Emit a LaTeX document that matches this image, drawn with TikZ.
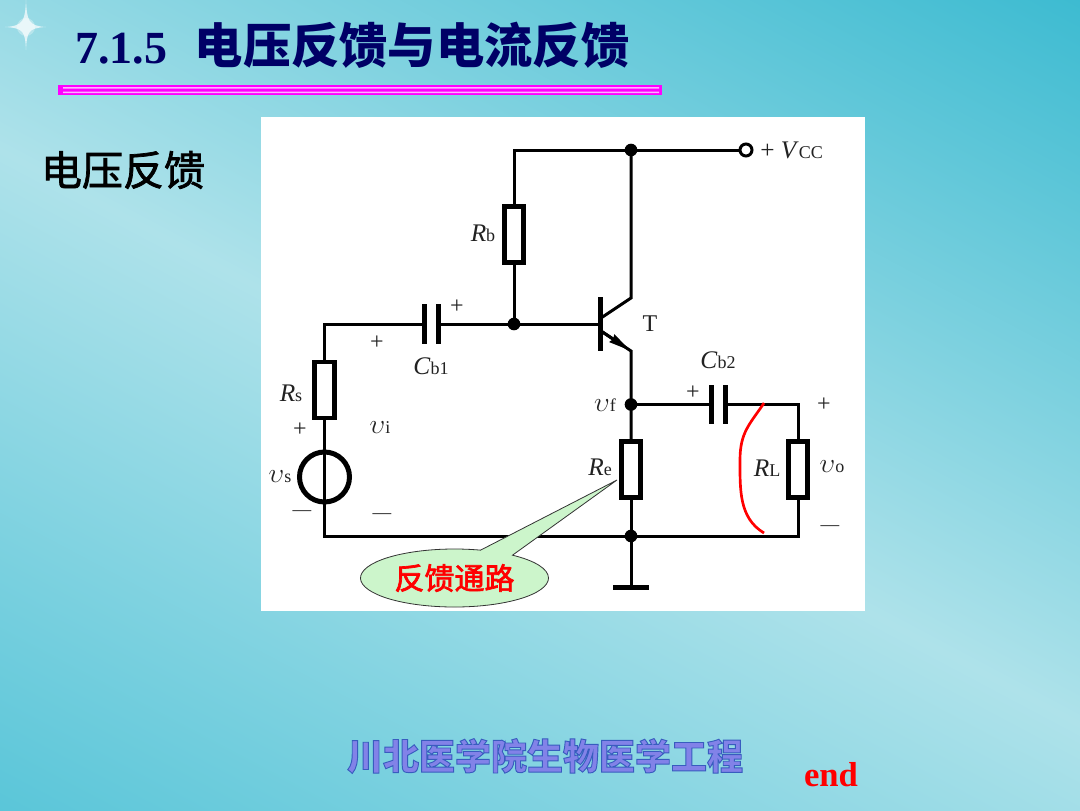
\documentclass[tikz,border=0pt]{standalone}
\usepackage{fontspec}
\setmainfont{Liberation Serif}
\newfontfamily\cjk{Noto Sans CJK SC}
\usepackage{tikz}
\usetikzlibrary{arrows.meta}
\usetikzlibrary{shapes.callouts}

\definecolor{bgdark}{HTML}{3DBBD1}
\definecolor{bgdarkb}{HTML}{52C3D7}
\definecolor{bglight}{HTML}{AEE2EA}
\definecolor{titleblue}{HTML}{000066}
\definecolor{calloutgreen}{HTML}{CCF5CB}
\definecolor{inkgrey}{HTML}{222222}
\definecolor{rulepink}{HTML}{FF00FF}

\newcommand{\lab}[2]{{\fontsize{19}{19}\selectfont\textit{#1}\fontsize{13.5}{13.5}\selectfont #2}}
\newcommand{\vlab}[1]{{\fontsize{22}{22}\selectfont$\upsilon$\fontsize{13.5}{13.5}\selectfont #1}}
% outlined text: stroke colour, stroke width, text
\newcommand{\stroked}[3]{\special{pdf:code #1 RG 2 Tr #2 w}#3\special{pdf:code 0 Tr}}

\tikzset{
    wire/.style={line width=2.25pt, line join=miter},
    res/.style={draw, fill=white, line width=3.6pt, minimum width=14.5pt, minimum height=42pt, inner sep=0pt},
    plate/.style={fill=black, minimum width=3.75pt, minimum height=29.5pt, inner sep=0pt, outer sep=-0.5pt},
    dot/.style={circle, fill=black, minimum size=9.5pt, inner sep=0pt, outer sep=-1pt},
    txt/.style={text=inkgrey, inner sep=0pt},
    sign/.style={text=inkgrey, inner sep=0pt, font=\fontsize{18}{18}\selectfont},
    dash sign/.style={text=inkgrey, inner sep=0pt, font=\fontsize{14}{14}\selectfont},
}

\begin{document}
\begin{tikzpicture}[x=0.75pt, y=-0.75pt]
    \useasboundingbox (0,0) rectangle (1080,810);

    % Background
    \begin{scope}
        \clip (0,0) rectangle (1080,810);
        \shade[transform canvas={rotate around={-28:(527,430)}}, top color=bgdark, bottom color=bgdarkb, middle color=bglight]
            (-500,-210) rectangle (1550,1070);
    \end{scope}

    % Star
    \fill[white, opacity=0.3] (26,27) circle (9);
    \fill[white, opacity=0.7] (26,0) .. controls (27,20) and (28,26) .. (46,27)
        .. controls (28,28) and (27,32) .. (26,50)
        .. controls (25,32) and (24,28) .. (5,27)
        .. controls (24,26) and (25,20) .. (26,0) -- cycle;

    % Title
    \node[anchor=base west, inner sep=0pt, text=titleblue, font=\bfseries\fontsize{34.5}{34.5}\selectfont] (title) at (75,63)
        {7.1.5\hspace{0.6em}{\cjk\fontsize{36.2}{36.2}\selectfont 电压反馈与电流反馈}};
    \fill[rulepink] (58,85) rectangle (662,95);
    \fill[rulepink!30!white] (63,87.2) rectangle (659,88.7) (63,91.6) rectangle (659,93.1);

    \node[anchor=center, inner sep=0pt, text=black, font=\cjk\fontsize{30.75}{30.75}\selectfont] (heading) at (123,170)
        {\stroked{0 0 0}{0.55}{电压反馈}};

    % White panel
    \fill[white] (261,117) rectangle (865,611);

    % Junctions and corners
    \node[dot] (jtop) at (631,150) {};
    \node[dot] (jbase) at (514,324) {};
    \node[dot] (jf) at (631,404.5) {};
    \node[dot] (jgnd) at (631,536) {};
    \node[circle, draw, fill=white, line width=2.25pt, minimum size=9pt, inner sep=0pt] (vcc) at (746,150) {};
    \coordinate (ctop) at (514,150);
    \coordinate (cin) at (324.5,324);
    \coordinate (cbl) at (324.5,536);
    \coordinate (cout) at (798,404.5);
    \coordinate (cbr) at (798,536);

    % Components
    \node[res] (Rb) at (514,234.5) {};
    \node[res] (Rs) at (324.5,390) {};
    \node[res] (Re) at (631,469.5) {};
    \node[res] (RL) at (798,469.5) {};
    \node[plate] (Cb1a) at (424,324) {};
    \node[plate] (Cb1b) at (438,324) {};
    \node[plate] (Cb2a) at (711,404.5) {};
    \node[plate] (Cb2b) at (725,404.5) {};
    \node[circle, draw, line width=3.75pt, minimum size=37.5pt, inner sep=0pt] (vsrc) at (324.5,477) {};
    \node[plate, minimum height=40.5pt] (Tbar) at (600,324) {};
    \node[fill=black, minimum width=27pt, minimum height=3.75pt, inner sep=0pt, outer sep=-0.5pt] (gbar) at (631,587) {};

    % Transistor
    \coordinate (Tc) at (631,298);
    \coordinate (Te) at (631,351);
    \coordinate (Tci) at (601,318);
    \coordinate (Tei) at (601,331);

    % Wires
    \draw[wire] (Rb) -- (ctop) -- (jtop) -- (vcc);
    \draw[wire] (Rb) -- (jbase);
    \draw[wire] (Cb1b) -- (jbase) -- (Tbar);
    \draw[wire] (Rs) -- (cin) -- (Cb1a);
    \draw[wire] (Rs) -- (cbl) -- (jgnd) -- (cbr) -- (RL);
    \draw[wire] (jtop) -- (Tc) -- (Tci);
    \draw[wire] (Tei) -- (Te) -- (jf) -- (Re);
    \draw[wire, -{Stealth[length=17pt, width=6.5pt, inset=1pt]}] (Tei) -- (Te);
    \draw[wire] (Re) -- (jgnd) -- (gbar);
    \draw[wire] (jf) -- (Cb2a);
    \draw[wire] (Cb2b) -- (cout) -- (RL);

    % Red mark
    \draw[red, line width=2pt] (764,403) .. controls (750,424) and (740,432) .. (740,460)
        .. controls (740,490) and (739,518) .. (764,533);

    % Labels
    \node[txt] (lRb) at (483,233) {\lab{R}{b}};
    \node[txt] (lRs) at (291,393) {\lab{R}{s}};
    \node[txt] (lRe) at (600,467) {\lab{R}{e}};
    \node[txt] (lRL) at (767,468) {\lab{R}{L}};
    \node[txt] (lCb1) at (431,366) {\lab{C}{b1}};
    \node[txt] (lCb2) at (718,360) {\lab{C}{b2}};
    \node[txt] (lvs) at (280,477) {\vlab{s}};
    \node[txt] (lvi) at (380,428) {\vlab{i}};
    \node[txt] (lvf) at (605,405) {\vlab{f}};
    \node[txt] (lvo) at (832,467) {\vlab{o}};
    \node[txt, font=\fontsize{18}{18}\selectfont] (lT) at (650,324) {T};
    \node[txt, anchor=west] (lvcc) at (760,150) {{\fontsize{19}{19}\selectfont + }\lab{V}{CC}};

    % Polarity signs
    \node[sign] (p1) at (457,307) {+};
    \node[sign] (p2) at (377,343) {+};
    \node[sign] (p3) at (300,430) {+};
    \node[sign] (p4) at (693,393) {+};
    \node[sign] (p5) at (824,405) {+};
    \node[dash sign] (m1) at (302,513) {—};
    \node[dash sign] (m2) at (382,516) {—};
    \node[dash sign] (m3) at (830,528) {—};

    % Callout
    \node[ellipse callout, draw=black!80, line width=0.6pt, fill=calloutgreen, minimum width=141pt, minimum height=43.5pt, inner sep=0pt,
        callout absolute pointer={(617,480)}, callout pointer arc=22,
        text=red, font=\cjk\fontsize{22.5}{22.5}\selectfont] (path) at (454.5,578) {\stroked{1 0 0}{0.5}{反馈通路}};

    % Footer
    \node[inner sep=0pt, text={rgb,255:red,130;green,130;blue,232}, font=\cjk\bfseries\fontsize{27}{27}\selectfont] (footer) at (545,756)
        {\stroked{0.22 0.36 0.75}{0.7}{川北医学院生物医学工程}};
    \node[inner sep=0pt, text=red, font=\bfseries\fontsize{26}{26}\selectfont] (endmark) at (831,775) {end};
\end{tikzpicture}
\end{document}
